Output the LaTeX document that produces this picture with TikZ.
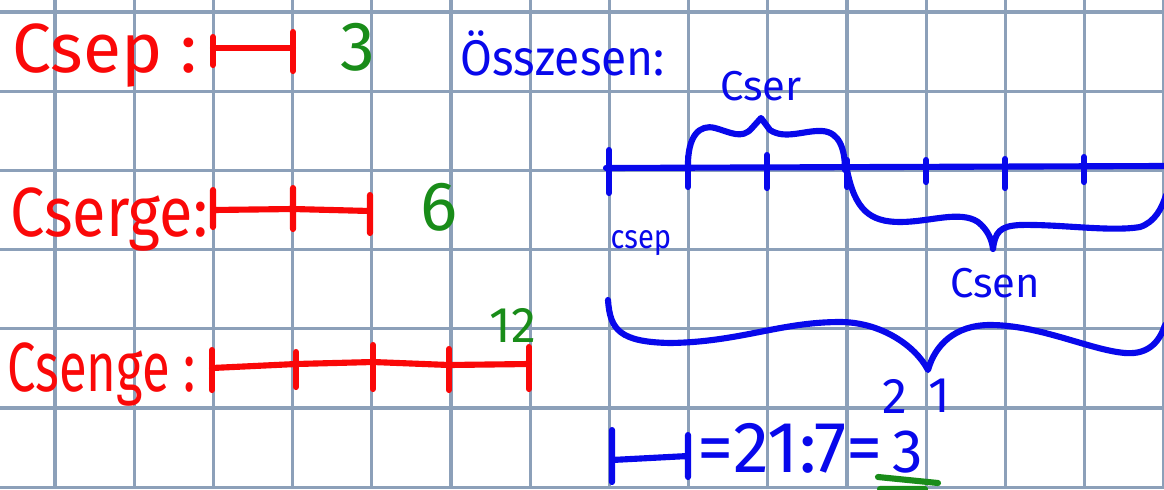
\documentclass[tikz,border=0pt]{standalone}
\usepackage{fontspec}
\setmainfont{Fira Sans}
\usetikzlibrary{positioning}
\definecolor{penred}{RGB}{250,8,8}
\definecolor{pengreen}{RGB}{25,140,25}
\definecolor{penblue}{RGB}{8,8,235}
\definecolor{gridblue}{RGB}{140,160,185}
\newcommand\bodypen{\fontsize{26}{30}\selectfont}
\newcommand\hugepen{\fontsize{25}{30}\selectfont}
\newcommand\largepen{\fontsize{22}{26}\selectfont}
\newcommand\bigpen{\fontsize{18}{22}\selectfont}
\newcommand\midpen{\fontsize{15}{18}\selectfont}
\newcommand\smallpen{\fontsize{12}{14}\selectfont}
\newcommand\squeeze[2]{\scalebox{#1}[1]{#2}}
\tikzset{
  pen/.style={line width=2.2pt, line cap=round, line join=round},
  word/.style={inner sep=0pt, anchor=base west},
  gridline/.style={gridblue, line width=1.1pt}
}

\begin{document}
\begin{tikzpicture}[x=0.12626mm, y=-0.12626mm]
  \useasboundingbox (0,0) rectangle (1164,489);
  \fill[white] (0,0) rectangle (1164,489);
  \foreach \k in {0,...,14} \draw[gridline] ({55+79.2*\k},0) -- ({55+79.2*\k},489);
  \foreach \k in {0,...,6} \draw[gridline] (0,{12+79.2*\k}) -- (1164,{12+79.2*\k});

  \node[word, text=penred, font=\hugepen] (csep) at (12,72) {Csep :};
  \draw[pen, penred] (213,37) -- (213,65) (213,48) -- (293,48) (293,32) -- (293,71);
  \node[word, text=pengreen, font=\hugepen] (three) at (340,70) {3};

  \node[word, text=penred, font=\hugepen] (cserge) at (10,236) {\squeeze{0.88}{Cserge:}};
  \draw[pen, penred] (213,190) -- (213,227) (213,210) -- (293,209) -- (370,211) (293,188) -- (293,229) (370,195) -- (370,233);
  \node[word, text=pengreen, font=\hugepen] (six) at (420,230) {6};

  \node[word, text=penred, font=\hugepen] (csenge) at (7,391) {\squeeze{0.73}{Csenge :}};
  \draw[pen, penred] (212,368) -- (296,364) -- (373,362) -- (449,365) -- (529,364);
  \draw[pen, penred] (212,350) -- (212,390) (296,352) -- (296,387) (373,345) -- (373,389) (449,349) -- (449,390) (529,347) -- (529,389);
  \node[word, text=pengreen, font=\bigpen] (twelve) at (489,342) {12};

  \node[word, text=penblue, font=\bigpen] (osszesen) at (460,75) {\squeeze{0.92}{Összesen:}};
  \draw[pen, penblue] (606,168) -- (1164,166);
  \draw[pen, penblue] (609,150) -- (609,193) (688,157) -- (688,187) (767,155) -- (767,188) (847,160) -- (847,187) (926,160) -- (926,182) (1005,159) -- (1005,188) (1084,157) -- (1084,182);
  \draw[pen, penblue] (688,169) .. controls (687,135) and (700,124) .. (715,128) .. controls (730,132) and (742,140) .. (752,128) -- (761,118) -- (770,130) .. controls (785,140) and (805,130) .. (822,131) .. controls (840,132) and (845,150) .. (845,170);
  \node[word, text=penblue, font=\midpen] (cser) at (720,100) {Cser};
  \node[word, text=penblue, font=\smallpen] (csepb) at (610,248) {\squeeze{0.87}{csep}};
  \draw[pen, penblue] (847,170) .. controls (855,210) and (870,222) .. (900,222) .. controls (930,222) and (960,210) .. (978,222) .. controls (988,230) and (992,240) .. (993,249) .. controls (995,232) and (1000,226) .. (1020,225) .. controls (1060,224) and (1110,232) .. (1140,227) .. controls (1155,222) and (1162,208) .. (1166,195);
  \node[word, text=penblue, font=\midpen] (csen) at (950,297) {Csen};
  \draw[pen, penblue] (608,300) .. controls (610,330) and (620,342) .. (670,343) .. controls (740,342) and (780,322) .. (840,322) .. controls (880,322) and (915,345) .. (928,370) .. controls (935,345) and (955,325) .. (990,325) .. controls (1040,325) and (1090,350) .. (1125,353) .. controls (1150,355) and (1160,340) .. (1165,325);

  \draw[pen, penblue] (612,430) -- (612,482) (612,460) -- (688,456) (688,435) -- (688,477);
  \node[word, text=penblue, font=\bodypen] (eq) at (697,472) {=21:7=};
  \node[word, text=penblue, font=\largepen] (res) at ([xshift=3pt]eq.base east) {3};
  \node[word, text=penblue, font=\bigpen] (cartwo) at (882,413) {2};
  \node[word, text=penblue, font=\bigpen] (carone) at (928,412) {1};
  \draw[pen, pengreen] (878,477) -- (938,483) (880,489) -- (925,489);
\end{tikzpicture}
\end{document}
